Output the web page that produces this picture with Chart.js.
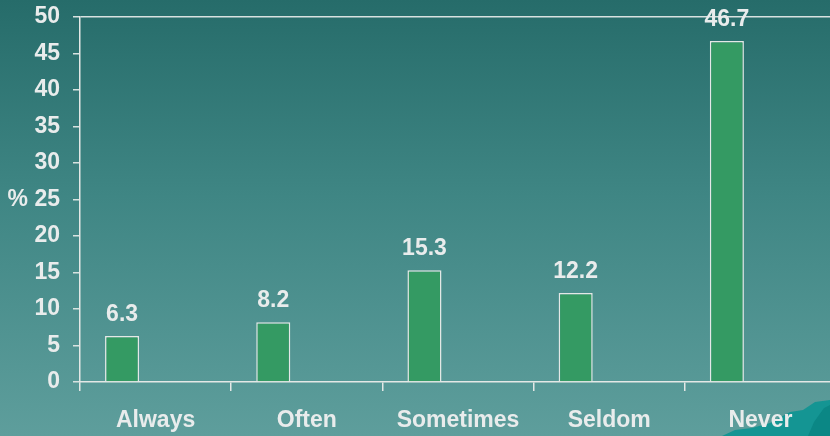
<!DOCTYPE html>
<html>
<head>
<meta charset="utf-8">
<script src="https://cdn.jsdelivr.net/npm/chart.js@4"></script>
<style>
  html, body { margin: 0; padding: 0; overflow: hidden; }
  body {
    width: 830px; height: 436px;
    background: linear-gradient(to bottom, #266c6a 0%, #3f8684 45%, #5e9e9c 100%);
    position: relative;
  }
  #wrap { position: absolute; left: 0; top: 0; width: 836px; height: 436px; }
</style>
</head>
<body>
<div id="wrap"><canvas id="chart"></canvas></div>
<script>
// data
const categories = ["Always", "Often", "Sometimes", "Seldom", "Never"];
const percentValues = [6.3, 8.2, 15.3, 12.2, 46.7];
const yTicks = [0, 5, 10, 15, 20, 25, 30, 35, 40, 45, 50];
const yUnitTick = 25;   // "%" sits next to this one

const TEXT = "#e9ecec";
const FONT = "'Liberation Sans', Arial, sans-serif";

// value labels above bars
const valueLabels = {
  id: "valueLabels",
  afterDatasetsDraw(chart) {
    const ctx = chart.ctx;
    const meta = chart.getDatasetMeta(0);
    ctx.save();
    ctx.fillStyle = TEXT;
    ctx.font = "bold 23px " + FONT;
    ctx.textAlign = "center";
    ctx.textBaseline = "alphabetic";
    meta.data.forEach((bar, i) => {
      ctx.fillText(String(percentValues[i]), bar.x, bar.y - 15);
    });
    ctx.restore();
  }
};

// little teal hills in the bottom right corner (slide decoration)
const cornerDecor = {
  id: "cornerDecor",
  beforeDraw(chart) {
    const ctx = chart.ctx;
    ctx.save();
    ctx.fillStyle = "#149593";
    ctx.beginPath();
    ctx.moveTo(722, 436);
    ctx.lineTo(735, 430);
    ctx.lineTo(752, 428);
    ctx.lineTo(770, 423);
    ctx.lineTo(790, 412);
    ctx.lineTo(803, 410);
    ctx.lineTo(815, 402);
    ctx.lineTo(830, 400);
    ctx.lineTo(836, 436);
    ctx.closePath();
    ctx.fill();
    ctx.fillStyle = "#0b8785";
    ctx.beginPath();
    ctx.moveTo(808, 436);
    ctx.lineTo(814, 422);
    ctx.lineTo(824, 408);
    ctx.lineTo(836, 402);
    ctx.lineTo(836, 436);
    ctx.closePath();
    ctx.fill();
    ctx.restore();
  }
};

new Chart(document.getElementById("chart"), {
  type: "bar",
  data: {
    labels: categories,
    datasets: [
      {
        data: percentValues,
        backgroundColor: "#349a63",
        borderColor: "#e4e8e6",
        borderWidth: 1.5,
        barPercentage: 0.508,
        categoryPercentage: 0.887
      },
      {
        // empty second series keeps the bars on the left of each slot
        data: categories.map(() => null),
        barPercentage: 0.508,
        categoryPercentage: 0.887
      }
    ]
  },
  options: {
    responsive: true,
    maintainAspectRatio: false,
    animation: false,
    layout: { padding: { top: 17, right: 0, left: 0, bottom: 0 } },
    plugins: {
      legend: { display: false },
      tooltip: { enabled: false }
    },
    scales: {
      x: {
        offset: true,
        afterFit(scale) { scale.height = 54; },
        grid: {
          offset: true,
          drawOnChartArea: false,
          color: "#e4e8e6",
          tickLength: 9,
          lineWidth: 1.5
        },
        border: { color: "#e4e8e6", width: 1.5 },
        ticks: {
          color: TEXT,
          font: { family: FONT, size: 23, weight: "bold" },
          padding: 16,
          maxRotation: 0
        }
      },
      y: {
        min: 0,
        max: 50,
        afterFit(scale) {
          scale.width = 80;
          scale.paddingTop = 0;
          scale.paddingBottom = 0;
        },
        afterBuildTicks(scale) { scale.ticks = yTicks.map(v => ({ value: v })); },
        grid: {
          color: ctx => (ctx.tick && ctx.tick.value === 50 ? "#d8e2e0" : "rgba(0,0,0,0)"),
          tickColor: "#d8e2e0",
          tickLength: 7,
          lineWidth: 1.5
        },
        border: { color: "#e4e8e6", width: 1.5 },
        ticks: {
          color: TEXT,
          font: { family: FONT, size: 23, weight: "bold" },
          padding: 13,
          callback: v => (v === yUnitTick ? "% " + v : String(v))
        }
      }
    }
  },
  plugins: [cornerDecor, valueLabels]
});
</script>
</body>
</html>
